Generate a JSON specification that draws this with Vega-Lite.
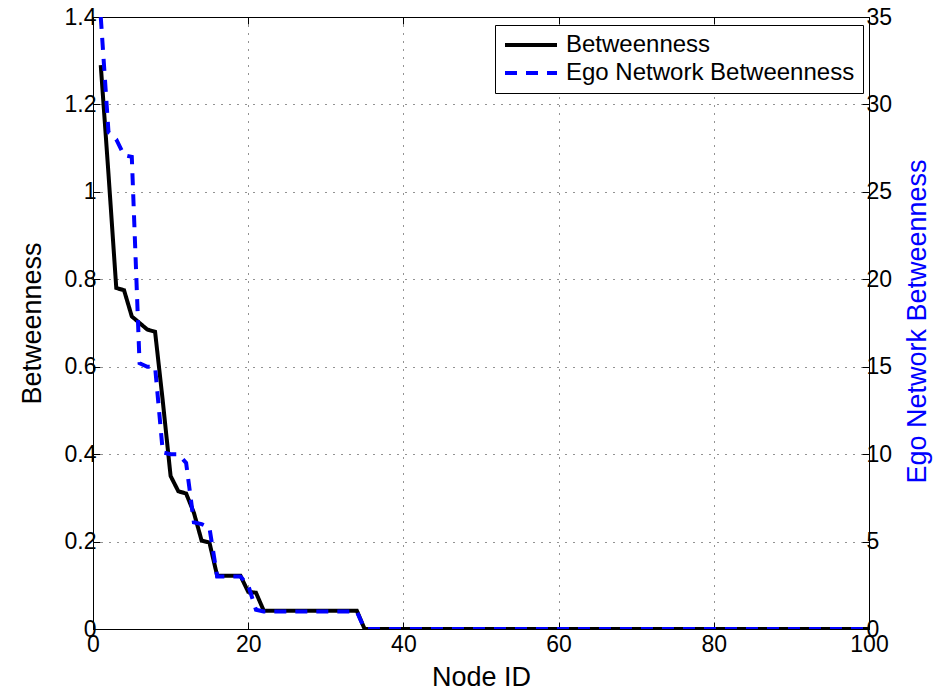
{
  "$schema": "https://vega.github.io/schema/vega-lite/v6.json",
  "width": 776,
  "height": 612,
  "autosize": "none",
  "padding": {"left": 93, "top": 17, "right": 77, "bottom": 61},
  "background": "white",
  "config": {
    "font": "Liberation Sans",
    "view": {"stroke": "black", "strokeWidth": 1},
    "axis": {
      "domainColor": "black",
      "tickColor": "black",
      "labelColor": "black",
      "labelFontSize": 23,
      "titleFontSize": 27,
      "titleFontWeight": "normal",
      "titleColor": "black",
      "tickSize": -7,
      "labelPadding": 11,
      "gridColor": "black",
      "gridDash": [1, 7],
      "gridOpacity": 0.85,
      "labelFlush": false,
      "labelOverlap": false
    }
  },
  "data": {
    "values": [
      {"node": 1, "b": 1.29, "ego": 35},
      {"node": 2, "b": 1.04, "ego": 28.4},
      {"node": 3, "b": 0.78, "ego": 28},
      {"node": 4, "b": 0.775, "ego": 27.1},
      {"node": 5, "b": 0.715, "ego": 27},
      {"node": 6, "b": 0.7, "ego": 15.2},
      {"node": 7, "b": 0.685, "ego": 15},
      {"node": 8, "b": 0.68, "ego": 15},
      {"node": 9, "b": 0.52, "ego": 10.1},
      {"node": 10, "b": 0.35, "ego": 10},
      {"node": 11, "b": 0.315, "ego": 10},
      {"node": 12, "b": 0.31, "ego": 9.5},
      {"node": 13, "b": 0.266, "ego": 6.1},
      {"node": 14, "b": 0.202, "ego": 6},
      {"node": 15, "b": 0.198, "ego": 5.8},
      {"node": 16, "b": 0.122, "ego": 3},
      {"node": 17, "b": 0.122, "ego": 3},
      {"node": 18, "b": 0.122, "ego": 3},
      {"node": 19, "b": 0.122, "ego": 3},
      {"node": 20, "b": 0.085, "ego": 2.5},
      {"node": 21, "b": 0.083, "ego": 1.1},
      {"node": 22, "b": 0.042, "ego": 1},
      {"node": 23, "b": 0.042, "ego": 1},
      {"node": 24, "b": 0.042, "ego": 1},
      {"node": 25, "b": 0.042, "ego": 1},
      {"node": 26, "b": 0.042, "ego": 1},
      {"node": 27, "b": 0.042, "ego": 1},
      {"node": 28, "b": 0.042, "ego": 1},
      {"node": 29, "b": 0.042, "ego": 1},
      {"node": 30, "b": 0.042, "ego": 1},
      {"node": 31, "b": 0.042, "ego": 1},
      {"node": 32, "b": 0.042, "ego": 1},
      {"node": 33, "b": 0.042, "ego": 1},
      {"node": 34, "b": 0.042, "ego": 1},
      {"node": 35, "b": 0, "ego": 0},
      {"node": 36, "b": 0, "ego": 0},
      {"node": 37, "b": 0, "ego": 0},
      {"node": 38, "b": 0, "ego": 0},
      {"node": 39, "b": 0, "ego": 0},
      {"node": 40, "b": 0, "ego": 0},
      {"node": 41, "b": 0, "ego": 0},
      {"node": 42, "b": 0, "ego": 0},
      {"node": 43, "b": 0, "ego": 0},
      {"node": 44, "b": 0, "ego": 0},
      {"node": 45, "b": 0, "ego": 0},
      {"node": 46, "b": 0, "ego": 0},
      {"node": 47, "b": 0, "ego": 0},
      {"node": 48, "b": 0, "ego": 0},
      {"node": 49, "b": 0, "ego": 0},
      {"node": 50, "b": 0, "ego": 0},
      {"node": 51, "b": 0, "ego": 0},
      {"node": 52, "b": 0, "ego": 0},
      {"node": 53, "b": 0, "ego": 0},
      {"node": 54, "b": 0, "ego": 0},
      {"node": 55, "b": 0, "ego": 0},
      {"node": 56, "b": 0, "ego": 0},
      {"node": 57, "b": 0, "ego": 0},
      {"node": 58, "b": 0, "ego": 0},
      {"node": 59, "b": 0, "ego": 0},
      {"node": 60, "b": 0, "ego": 0},
      {"node": 61, "b": 0, "ego": 0},
      {"node": 62, "b": 0, "ego": 0},
      {"node": 63, "b": 0, "ego": 0},
      {"node": 64, "b": 0, "ego": 0},
      {"node": 65, "b": 0, "ego": 0},
      {"node": 66, "b": 0, "ego": 0},
      {"node": 67, "b": 0, "ego": 0},
      {"node": 68, "b": 0, "ego": 0},
      {"node": 69, "b": 0, "ego": 0},
      {"node": 70, "b": 0, "ego": 0},
      {"node": 71, "b": 0, "ego": 0},
      {"node": 72, "b": 0, "ego": 0},
      {"node": 73, "b": 0, "ego": 0},
      {"node": 74, "b": 0, "ego": 0},
      {"node": 75, "b": 0, "ego": 0},
      {"node": 76, "b": 0, "ego": 0},
      {"node": 77, "b": 0, "ego": 0},
      {"node": 78, "b": 0, "ego": 0},
      {"node": 79, "b": 0, "ego": 0},
      {"node": 80, "b": 0, "ego": 0},
      {"node": 81, "b": 0, "ego": 0},
      {"node": 82, "b": 0, "ego": 0},
      {"node": 83, "b": 0, "ego": 0},
      {"node": 84, "b": 0, "ego": 0},
      {"node": 85, "b": 0, "ego": 0},
      {"node": 86, "b": 0, "ego": 0},
      {"node": 87, "b": 0, "ego": 0},
      {"node": 88, "b": 0, "ego": 0},
      {"node": 89, "b": 0, "ego": 0},
      {"node": 90, "b": 0, "ego": 0},
      {"node": 91, "b": 0, "ego": 0},
      {"node": 92, "b": 0, "ego": 0},
      {"node": 93, "b": 0, "ego": 0},
      {"node": 94, "b": 0, "ego": 0},
      {"node": 95, "b": 0, "ego": 0},
      {"node": 96, "b": 0, "ego": 0},
      {"node": 97, "b": 0, "ego": 0},
      {"node": 98, "b": 0, "ego": 0},
      {"node": 99, "b": 0, "ego": 0},
      {"node": 100, "b": 0, "ego": 0}
    ]
  },
  "layer": [
    {
      "transform": [{"fold": ["b"], "as": ["series", "value"]}],
      "mark": {"type": "line", "strokeWidth": 4, "clip": true},
      "encoding": {
        "x": {
          "field": "node", "type": "quantitative",
          "scale": {"domain": [0, 100], "nice": false},
          "axis": {"values": [0, 20, 40, 60, 80, 100], "title": "Node ID", "grid": true, "titleY": 56, "titleBaseline": "alphabetic"}
        },
        "y": {
          "field": "value", "type": "quantitative",
          "scale": {"domain": [0, 1.4], "nice": false},
          "axis": {"orient": "left", "values": [0, 0.2, 0.4, 0.6, 0.8, 1, 1.2, 1.4], "format": "~g", "title": "Betweenness", "grid": true, "titleX": -61, "titleY": 306, "titleAngle": -90, "titleBaseline": "middle", "labelPadding": 4}
        },
        "color": {
          "field": "series", "type": "nominal",
          "scale": {"domain": ["b", "ego"], "range": ["black", "blue"]},
          "legend": {
            "orient": "none", "legendX": 402, "legendY": 8, "title": null,
            "labelExpr": "datum.label == 'b' ? 'Betweenness' : 'Ego Network Betweenness'",
            "labelFontSize": 24, "labelColor": "black", "labelFont": "Liberation Sans",
            "symbolType": "stroke", "symbolSize": 2700, "symbolStrokeWidth": 4, "clipHeight": 24,
            "strokeColor": "black", "fillColor": "white", "padding": 8, "rowPadding": 4, "labelOffset": 7, "labelLimit": 400
          }
        },
        "strokeDash": {
          "field": "series", "type": "nominal",
          "scale": {"domain": ["b", "ego"], "range": [[1, 0], [12, 9]]},
          "legend": {
            "orient": "none", "legendX": 402, "legendY": 8, "title": null,
            "labelExpr": "datum.label == 'b' ? 'Betweenness' : 'Ego Network Betweenness'",
            "labelFontSize": 24, "labelColor": "black", "labelFont": "Liberation Sans",
            "symbolType": "stroke", "symbolSize": 2700, "symbolStrokeWidth": 4, "clipHeight": 24,
            "strokeColor": "black", "fillColor": "white", "padding": 8, "rowPadding": 4, "labelOffset": 7, "labelLimit": 400
          }
        }
      }
    },
    {
      "transform": [{"fold": ["ego"], "as": ["series", "value"]}],
      "mark": {"type": "line", "strokeWidth": 4, "clip": true},
      "encoding": {
        "x": {
          "field": "node", "type": "quantitative", "scale": {"domain": [0, 100], "nice": false},
          "axis": {"orient": "top", "values": [0, 20, 40, 60, 80, 100], "labels": false, "title": null, "grid": false, "domain": false}
        },
        "y": {
          "field": "value", "type": "quantitative",
          "scale": {"domain": [0, 35], "nice": false},
          "axis": {"orient": "right", "values": [0, 5, 10, 15, 20, 25, 30, 35], "title": "Ego Network Betweenness", "titleColor": "blue", "grid": false, "titleX": 48, "titleY": 304, "titleAngle": -90, "titleBaseline": "middle", "labelPadding": 4}
        },
        "color": {"field": "series", "type": "nominal"},
        "strokeDash": {"field": "series", "type": "nominal"}
      }
    }
  ],
  "resolve": {"scale": {"y": "independent"}, "axis": {"x": "independent"}}
}
